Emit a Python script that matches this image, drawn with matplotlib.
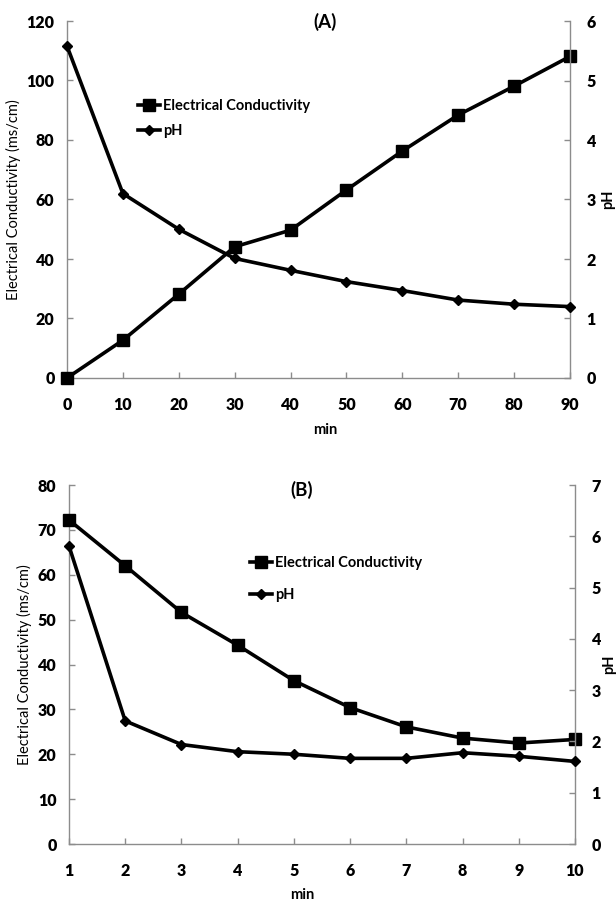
import matplotlib
matplotlib.use("Agg")
import matplotlib.pyplot as plt
from matplotlib.lines import Line2D

# Panel A data
time_a = [0, 10, 20, 30, 40, 50, 60, 70, 80, 90]
ec_a = [0.0, 12.7, 28.2, 44.1, 49.7, 63.2, 76.3, 88.4, 98.1, 108.1]
ph_a = [5.58, 3.10, 2.50, 2.01, 1.81, 1.62, 1.47, 1.31, 1.24, 1.20]

# Panel B data
time_b = [1, 2, 3, 4, 5, 6, 7, 8, 9, 10]
ec_b = [72.2, 62.0, 51.6, 44.3, 36.4, 30.4, 26.1, 23.6, 22.5, 23.3]
ph_b = [5.81, 2.40, 1.94, 1.80, 1.75, 1.67, 1.67, 1.78, 1.71, 1.61]

ticks_a_left = [0, 20, 40, 60, 80, 100, 120]
ticks_a_right = [0, 1, 2, 3, 4, 5, 6]
ticks_b_left = [0, 10, 20, 30, 40, 50, 60, 70, 80]
ticks_b_right = [0, 1, 2, 3, 4, 5, 6, 7]

LABFONT = dict(family="Lato", size=10.5)
GREY = "#8c8c8c"

fig = plt.figure(figsize=(6.16, 9.05), dpi=100)


def style(ax, ax2):
    for a in (ax, ax2):
        for s in a.spines.values():
            s.set_color(GREY)
            s.set_linewidth(1.0)
        a.spines["top"].set_visible(False)
        a.tick_params(direction="in", length=4, color=GREY, width=1)
    ax.spines["right"].set_visible(False)
    ax2.spines["left"].set_visible(False)
    ax2.spines["bottom"].set_visible(False)
    for lab in ax.get_xticklabels() + ax.get_yticklabels() + ax2.get_yticklabels():
        lab.set_fontfamily("Lato")
        lab.set_fontweight("heavy")
        lab.set_fontsize(11.5)


def panel(rect, x, ec, ph, xlim, xticks, lt, rt, title, title_xy, leg_xy, leg_gap, minxy, rpad):
    ax = fig.add_axes(rect)
    ax2 = ax.twinx()
    ax.plot(x, ec, color="black", lw=2.6, marker="s", ms=8, zorder=3, clip_on=False)
    ax2.plot(x, ph, color="black", lw=2.6, marker="D", ms=5.5, zorder=3, clip_on=False)
    ax.set_xlim(*xlim)
    ax.set_ylim(lt[0], lt[-1])
    ax2.set_ylim(rt[0], rt[-1])
    ax.set_xticks(xticks)
    ax.set_yticks(lt)
    ax2.set_yticks(rt)
    ax.tick_params(axis="x", pad=14)
    ax.tick_params(axis="y", pad=9)
    ax2.tick_params(axis="y", pad=12)
    style(ax, ax2)
    ax.set_ylabel("Electrical Conductivity (ms/cm)", fontdict=LABFONT, labelpad=4)
    ax2.set_ylabel("pH", fontdict=dict(family="Lato", weight="bold", size=10.5), labelpad=rpad)
    fig.text(minxy[0] / 616, 1 - minxy[1] / 905, "min", ha="center", va="center",
             family="Lato", weight="bold", size=10.5)
    fig.text(title_xy[0] / 616, 1 - title_xy[1] / 905, title, ha="center", va="center",
             family="Lato", weight="bold", size=13.5)
    handles = [Line2D([], [], color="black", lw=2.6, marker="s", ms=8),
               Line2D([], [], color="black", lw=2.6, marker="D", ms=5.5)]
    fig.legend(handles, ["Electrical Conductivity", "pH"],
               loc="upper left",
               bbox_to_anchor=(leg_xy[0] / 616, 1 - leg_xy[1] / 905),
               frameon=False, handlelength=1.5, handletextpad=0.2,
               labelspacing=leg_gap, borderpad=0, borderaxespad=0,
               prop=dict(family="Lato", weight="bold", size=10.5))
    return ax, ax2


panel([67 / 616, 1 - 378 / 905, (570 - 67) / 616, (378 - 21) / 905],
      time_a, ec_a, ph_a, (0, 90), time_a, ticks_a_left, ticks_a_right,
      "(A)", (325, 22), (138, 99), 0.75, (325, 430), 4)

panel([69 / 616, 1 - 844 / 905, (575 - 69) / 616, (844 - 485) / 905],
      time_b, ec_b, ph_b, (1, 10), time_b, ticks_b_left, ticks_b_right,
      "(B)", (302, 490), (250, 556), 1.25, (302, 895), 1)

fig.savefig("out.png", dpi=100, facecolor="white")
